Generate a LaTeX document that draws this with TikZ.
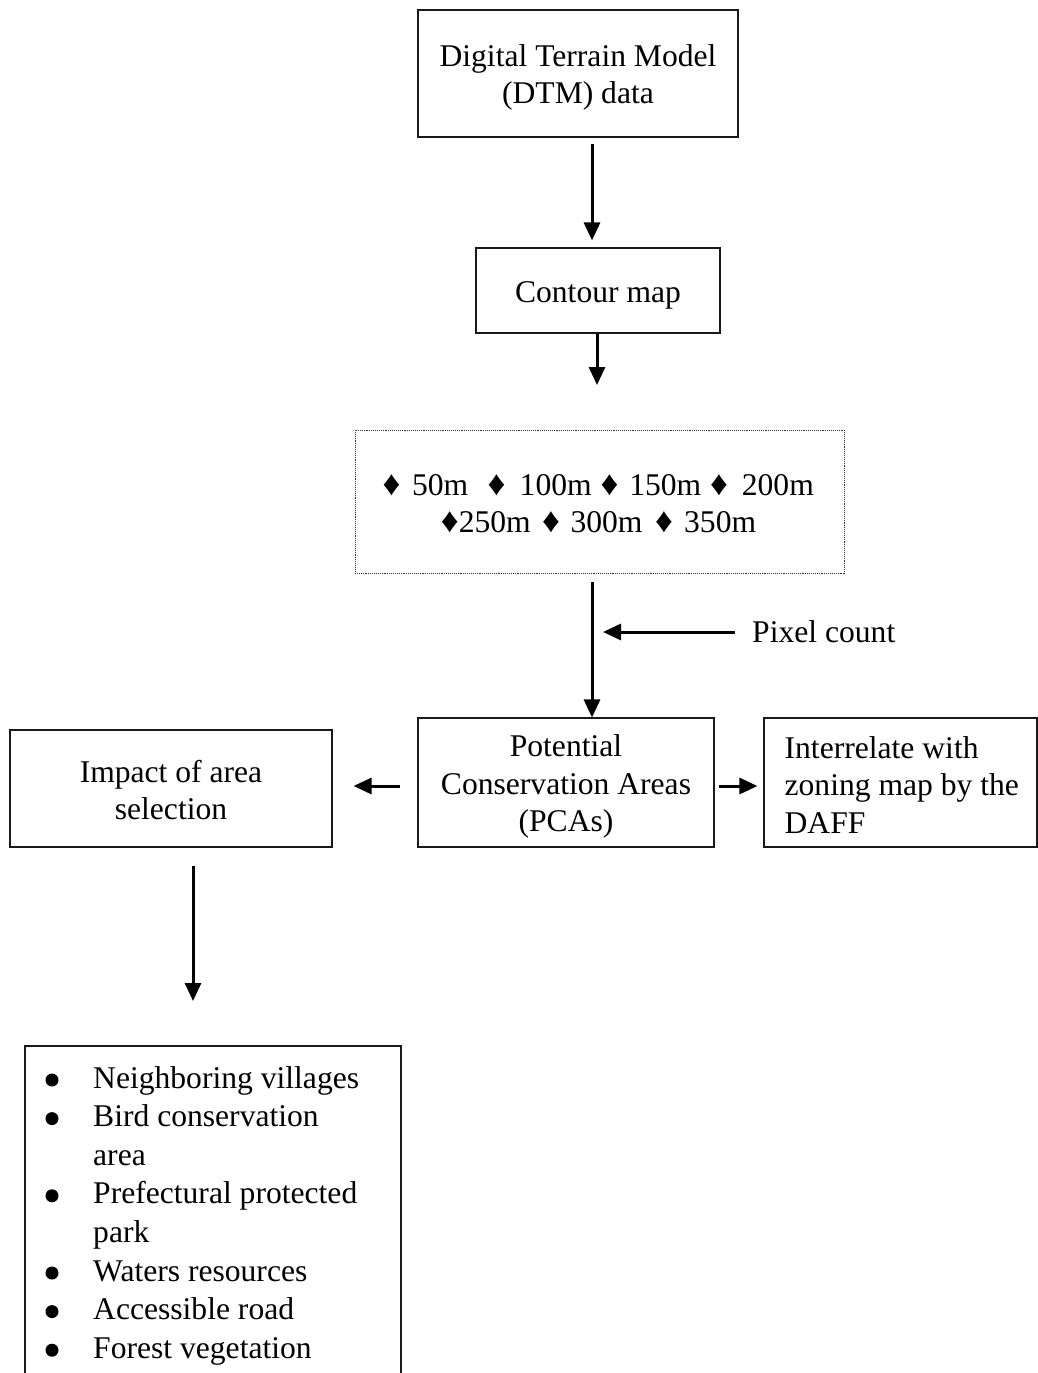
\documentclass[tikz,border=0pt]{standalone}
\usepackage{fontspec}
\setmainfont{Liberation Serif}
\usetikzlibrary{arrows.meta}
% uniform line strut so that every text line is boxed like a word-processor line
\newcommand\Lstrut{\rule[-5pt]{0pt}{35pt}}
% suit diamond in a fixed-width slot
\newcommand\Dia[1][13pt]{\makebox[#1]{\fontsize{35}{39}\selectfont ♦}}
\begin{document}
\begin{tikzpicture}[x=1pt,y=-1pt,
  font=\fontsize{31.6}{37.5}\selectfont,
  box/.style={draw=black!90, line width=1.1pt, inner sep=0pt, align=center},
  dotbox/.style={draw=black!80, line width=0.9pt, densely dotted, inner sep=0pt, align=center},
  arr/.style={line width=3pt, -{Triangle[length=18pt,width=16pt]}},
  plain/.style={inner sep=0pt, align=left}]
\useasboundingbox (0,0) rectangle (1038,1373);

% main boxes
\node[box, minimum width=320pt, minimum height=127pt] (dtm) at (578,73.5)
  {\Lstrut Digital Terrain Model\\\Lstrut (DTM) data};
\node[box, minimum width=244pt, minimum height=85pt] (contour) at (598,290.5)
  {\Lstrut Contour map};
\node[dotbox, minimum width=489pt, minimum height=143pt] (dots) at (599.5,501.5)
  {\fontsize{31.6}{39}\selectfont
   \Lstrut\Dia\hspace{14pt}50m\hspace{21.7pt}\Dia\hspace{16.7pt}100m\hspace{11.3pt}%
   \Dia\hspace{13.3pt}150m\hspace{11.3pt}\Dia\hspace{16.3pt}200m\\
   \Lstrut\Dia[14pt]\hspace{2pt}250m\hspace{13.7pt}\Dia\hspace{13pt}300m\hspace{15pt}%
   \Dia\hspace{13.7pt}350m};
\node[plain, anchor=west] (pix) at (752,632) {Pixel count};
\node[box, minimum width=296pt, minimum height=129pt] (pca) at (566,782.5)
  {\Lstrut Potential\\\Lstrut Conservation Areas\\\Lstrut (PCAs)};
\node[box, minimum width=322pt, minimum height=117pt] (imp) at (171,788.5)
  {\Lstrut Impact of area\\\Lstrut selection};
\node[box, minimum width=273pt, minimum height=129pt] (daff) at (900.5,782.5) {};
\node[plain, anchor=west] (dafftext) at ([xshift=21pt,yshift=-2.5pt]daff.west)
  {Interrelate with\\zoning map by the\\DAFF};

% list box, open at the bottom
\coordinate (lbl) at (25,1373);
\coordinate (ltl) at (25,1046);
\coordinate (ltr) at (401,1046);
\coordinate (lbr) at (401,1373);
\draw[draw=black!90, line width=1.1pt] (lbl) -- (ltl) -- (ltr) -- (lbr);
\node[plain, anchor=base west] (list) at (93,1088)
  {\fontsize{31.6}{38.6}\selectfont
   \renewcommand\arraystretch{1}%
   \begin{tabular}[t]{@{}l@{}}
   Neighboring villages\\
   Bird conservation\\
   area\\
   Prefectural protected\\
   park\\
   Waters resources\\
   Accessible road\\
   Forest vegetation
   \end{tabular}};
% list bullets, on the item lines (row numbers 0,1,3,5,6,7)
\foreach \r in {0,1,3,5,6,7}
  \fill ([xshift=-41pt,yshift={8pt-\r*38.6pt}]list.base west) circle (6.5pt);

% free arrow ends
\coordinate (c2end) at (597,385);
\coordinate (pixtip) at (603,632);
\coordinate (impend) at (193,1001);

% connectors
\draw[arr] ([xshift=14pt,yshift=-6pt]dtm.south) -- ([xshift=-6pt,yshift=7pt]contour.north);
\draw[arr] ([xshift=-1pt]contour.south) -- (c2end);
\draw[arr] ([xshift=-7.5pt,yshift=-9pt]dots.south) -- ([xshift=26pt]pca.north);
\draw[arr] ([xshift=-17pt]pix.west) -- (pixtip);
\draw[arr] ([xshift=-17pt,yshift=-3.5pt]pca.west) -- ([xshift=21pt,yshift=2.5pt]imp.east);
\draw[arr] ([xshift=4pt,yshift=-3.5pt]pca.east) -- ([xshift=-6pt,yshift=-3.5pt]daff.west);
\draw[arr] ([xshift=22pt,yshift=-18pt]imp.south) -- (impend);
\end{tikzpicture}
\end{document}
